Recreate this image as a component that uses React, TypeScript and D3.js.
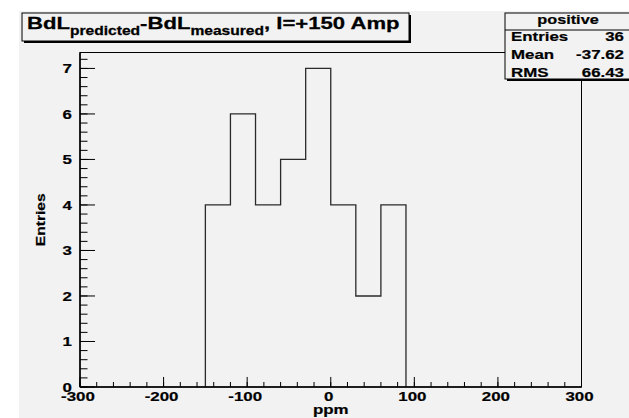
import React from 'react';
import * as d3 from 'd3';

// histogram: bin edges (ppm) and counts
const binEdges = [-150, -120, -90, -60, -30, 0, 30, 60, 90];
const binCounts = [4, 6, 4, 5, 7, 4, 2, 4];
const xTicks = [-300, -200, -100, 0, 100, 200, 300];
const yTicks = [0, 1, 2, 3, 4, 5, 6, 7];
const statLabels = ['Entries', 'Mean', 'RMS'];
const statValues = ['36', '-37.62', '66.43'];

const W = 629;
const H = 418;
const FONT = '"Liberation Sans", Arial, Helvetica, sans-serif';
const SX = 1.3; // the reference text is drawn wide

function T({ x, y, size, anchor = 'start', children, sx = SX, rotate = 0 }: any) {
  return (
    <text
      transform={`translate(${x},${y}) rotate(${rotate}) scale(${sx},1)`}
      fontFamily={FONT}
      fontWeight="bold"
      fontSize={size}
      textAnchor={anchor}
      fill="#000"
      stroke="#000"
      strokeWidth={0.2}
    >
      {children}
    </text>
  );
}

export default function App() {
  const plot = { left: 80, right: 581.5, top: 52.5, bottom: 387 };
  const x = d3.scaleLinear().domain([-300, 300]).range([plot.left, plot.right]);
  const y = d3.scaleLinear().domain([0, 7.35]).range([plot.bottom, plot.top]);

  // step outline of the histogram
  let path = `M${x(binEdges[0])},${y(0)}`;
  binCounts.forEach((c, i) => {
    path += `V${y(c)}H${x(binEdges[i + 1])}`;
  });
  path += `V${y(0)}`;

  const xMinor = d3.range(-300, 300.1, 20);
  const yMinor = d3.range(0, 7.35, 0.2);
  const xTickLen = 0.03 * (plot.bottom - plot.top);
  const yTickLen = 0.03 * (plot.right - plot.left);

  return (
    <div style={{ position: 'absolute', left: 0, top: 0 }}>
      <svg width={W} height={H} style={{ display: 'block' }}>
        <rect x={0} y={0} width={W} height={H} fill="#fff" />
        <rect x={19} y={11} width={W - 19} height={H - 11} fill="#f2f2f2" />

        {/* frame */}
        <rect
          x={plot.left}
          y={plot.top}
          width={plot.right - plot.left}
          height={plot.bottom - plot.top}
          fill="none"
          stroke="#000"
          strokeWidth={1}
        />

        {/* histogram */}
        <path d={path} fill="none" stroke="#2a2a2a" strokeWidth={1.3} />

        {/* x axis ticks */}
        {xMinor.map((v) => (
          <line key={'xm' + v} x1={x(v)} x2={x(v)} y1={plot.bottom} y2={plot.bottom - xTickLen / 2} stroke="#000" />
        ))}
        {xTicks.map((v) => (
          <g key={'x' + v}>
            <line x1={x(v)} x2={x(v)} y1={plot.bottom} y2={plot.bottom - xTickLen} stroke="#000" />
            <T x={x(v) - 2} y={401} size={13} anchor="middle">{v}</T>
          </g>
        ))}
        <line x1={plot.left} x2={plot.right} y1={plot.bottom} y2={plot.bottom} stroke="#000" strokeWidth={1.5} />

        {/* y axis ticks */}
        {yMinor.map((v) => (
          <line key={'ym' + v} x1={plot.left} x2={plot.left + yTickLen / 2} y1={y(v)} y2={y(v)} stroke="#000" />
        ))}
        {yTicks.map((v) => (
          <g key={'y' + v}>
            <line x1={plot.left} x2={plot.left + yTickLen} y1={y(v)} y2={y(v)} stroke="#000" />
            <T x={72} y={y(v) + 4.7} size={13} anchor="end">{v}</T>
          </g>
        ))}
        <line x1={plot.left} x2={plot.left} y1={plot.top} y2={plot.bottom} stroke="#000" strokeWidth={1.5} />

        {/* axis titles */}
        <T x={(plot.left + plot.right) / 2} y={414} size={13} anchor="middle">ppm</T>
        <T x={45} y={(plot.top + plot.bottom) / 2} size={13} anchor="middle" rotate={-90} sx={1.2}>Entries</T>

        {/* title box */}
        <rect x={24} y={15} width={387} height={28} fill="#000" />
        <rect x={22} y={13} width={387} height={28} fill="#f2f2f2" stroke="#000" strokeWidth={1} />
        <text
          transform="translate(27,28.5) scale(1.3,1)"
          fontFamily={FONT}
          fontWeight="bold"
          fontSize={17}
          fill="#000"
          stroke="#000"
          strokeWidth={0.25}
        >
          BdL
          <tspan fontSize={12} dy={6}>predicted</tspan>
          <tspan dy={-6}>-BdL</tspan>
          <tspan fontSize={12} dy={6}>measured</tspan>
          <tspan dy={-6}>, I=+150 Amp</tspan>
        </text>

        {/* stats box */}
        <rect x={507} y={15} width={130} height={66} fill="#000" />
        <rect x={505} y={13} width={130} height={66} fill="#f2f2f2" stroke="#000" strokeWidth={1} />
        <line x1={505} x2={W} y1={30} y2={30} stroke="#000" />
        <T x={568} y={23.5} size={12.5} anchor="middle">positive</T>
        {statLabels.map((s, i) => (
          <g key={s}>
            <T x={511} y={40.5 + i * 18} size={13}>{s}</T>
            <T x={624} y={40.5 + i * 18} size={13} anchor="end">{statValues[i]}</T>
          </g>
        ))}
      </svg>
    </div>
  );
}
